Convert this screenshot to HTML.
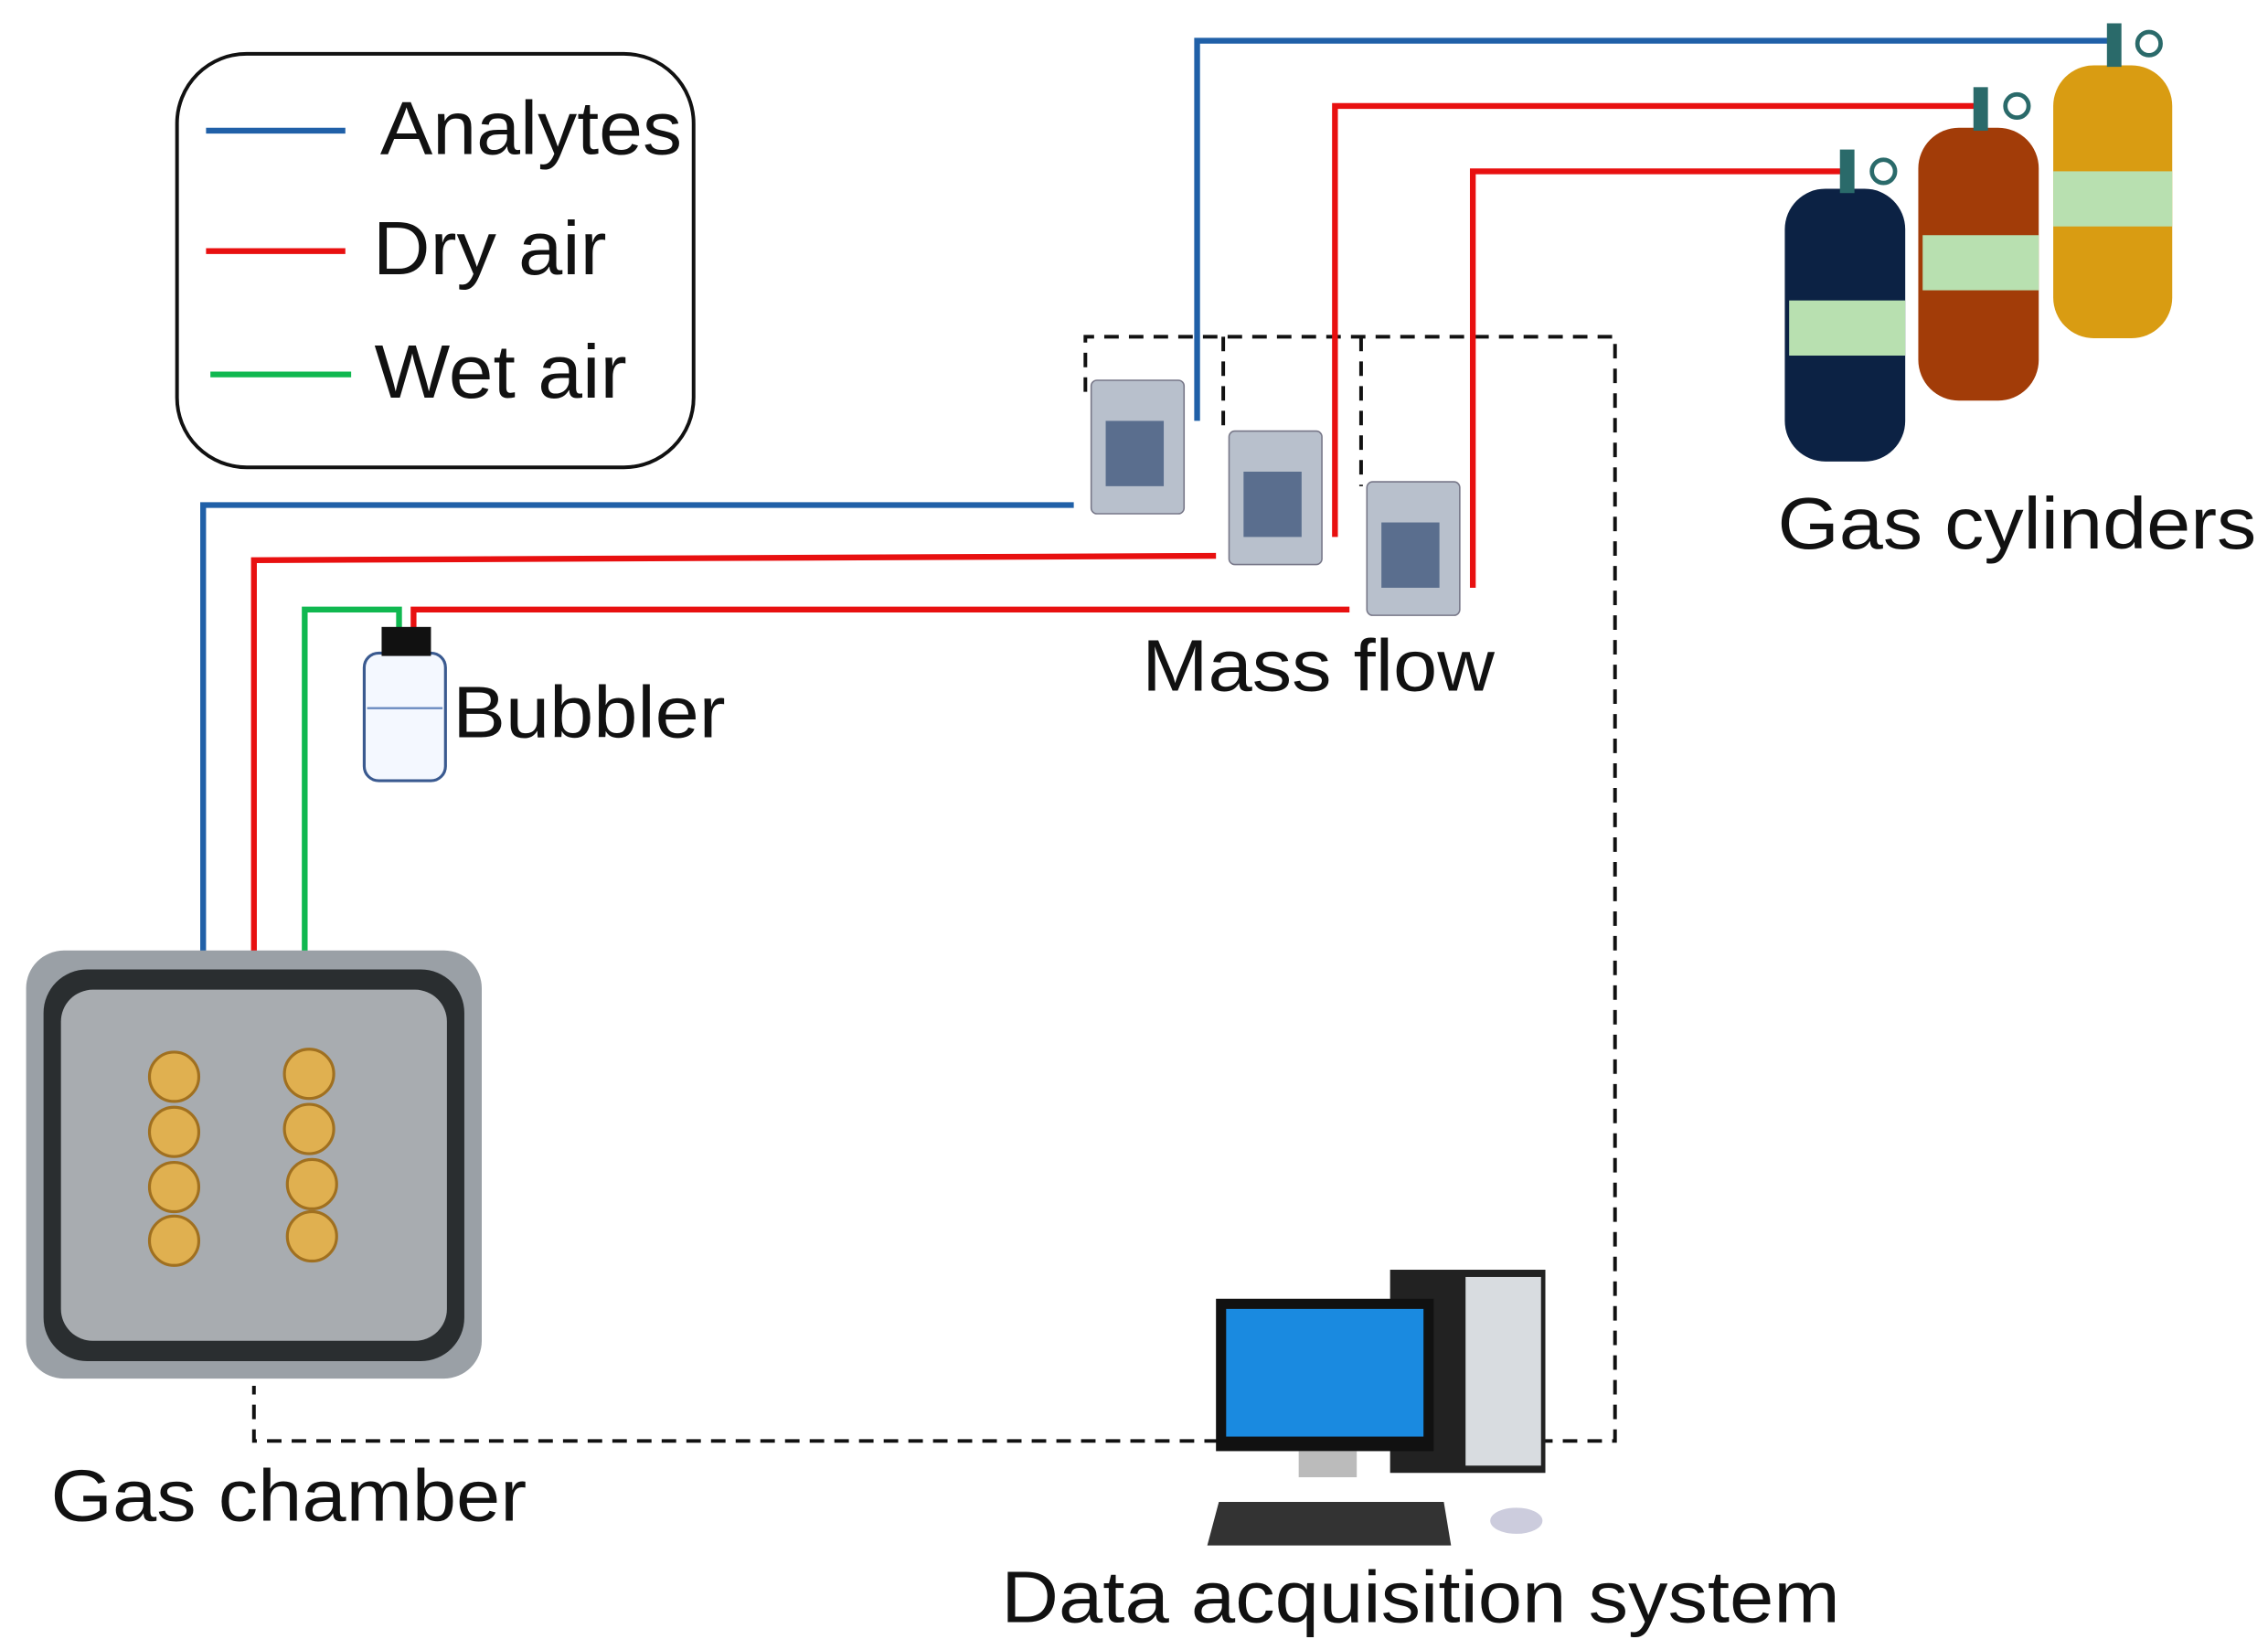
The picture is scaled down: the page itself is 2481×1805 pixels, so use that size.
<!DOCTYPE html>
<html><head><meta charset="utf-8"><style>
html,body{margin:0;padding:0;background:#fff;}
svg{display:block;}
text{font-family:"Liberation Sans",Arial,sans-serif;fill:#111;}
</style></head><body>
<svg width="2481" height="1805" viewBox="0 0 1563 1137" xmlns="http://www.w3.org/2000/svg">
<rect width="1563" height="1137" fill="#fff"/>
<rect x="122" y="37" width="356" height="285" rx="48" fill="none" stroke="#111" stroke-width="2.5"/>
<line x1="142" y1="90" x2="238" y2="90" stroke="#2060a8" stroke-width="4"/>
<line x1="142" y1="173" x2="238" y2="173" stroke="#e81010" stroke-width="4"/>
<line x1="145" y1="258" x2="242" y2="258" stroke="#10b850" stroke-width="4"/>
<text x="262" y="106" font-size="52" textLength="208" lengthAdjust="spacingAndGlyphs">Analytes</text>
<text x="257" y="189" font-size="52" textLength="161" lengthAdjust="spacingAndGlyphs">Dry air</text>
<text x="258" y="274" font-size="52" textLength="174" lengthAdjust="spacingAndGlyphs">Wet air</text>
<g fill="none" stroke="#111" stroke-width="2.5" stroke-dasharray="10,7">
<polyline points="748,270 748,232 1113,232 1113,993 1065,993"/>
<polyline points="840,993 175,993 175,955"/>
<line x1="843" y1="232" x2="843" y2="300"/>
<line x1="938" y1="232" x2="938" y2="335"/>
</g>
<g fill="none" stroke-width="4">
<polyline stroke="#2060a8" points="1460,28 825,28 825,290"/>
<polyline stroke="#2060a8" points="740,348 140,348 140,657"/>
<polyline stroke="#e81010" points="1365,73 920,73 920,370"/>
<polyline stroke="#e81010" points="838,383 175,386 175,657"/>
<polyline stroke="#e81010" points="1270,118 1015,118 1015,405"/>
<polyline stroke="#e81010" points="930,420 285,420 285,510"/>
<polyline stroke="#10b850" points="275,480 275,420 210,420 210,657"/>
</g>
<g>
<rect x="752" y="262" width="64" height="92" fill="#b8c0cc" stroke="#778" rx="4"/>
<rect x="762" y="290" width="40" height="45" fill="#5a6e8e"/>
<rect x="847" y="297" width="64" height="92" fill="#b8c0cc" stroke="#778" rx="4"/>
<rect x="857" y="325" width="40" height="45" fill="#5a6e8e"/>
<rect x="942" y="332" width="64" height="92" fill="#b8c0cc" stroke="#778" rx="4"/>
<rect x="952" y="360" width="40" height="45" fill="#5a6e8e"/>
</g>
<text x="787" y="476" font-size="50" textLength="243" lengthAdjust="spacingAndGlyphs">Mass flow</text>
<rect x="251" y="450" width="56" height="88" rx="10" fill="#f4f8ff" stroke="#3a5a90" stroke-width="2"/>
<line x1="253" y1="488" x2="305" y2="488" stroke="#6a8ac0" stroke-width="1.5"/>
<rect x="263" y="432" width="34" height="20" fill="#111"/>
<text x="312" y="508" font-size="50" textLength="188" lengthAdjust="spacingAndGlyphs">Bubbler</text>
<g>
<rect x="1415" y="45" width="82" height="188" rx="28" fill="#d99c12"/>
<rect x="1415" y="118" width="82" height="38" fill="#b8e0b0"/>
<rect x="1322" y="88" width="83" height="188" rx="28" fill="#a23c08"/>
<rect x="1325" y="162" width="80" height="38" fill="#b8e0b0"/>
<rect x="1230" y="130" width="83" height="188" rx="28" fill="#0c2244"/>
<rect x="1233" y="207" width="80" height="38" fill="#b8e0b0"/>
<g fill="#2a6a6a"><rect x="1452" y="16" width="10" height="30"/><rect x="1360" y="60" width="10" height="30"/><rect x="1268" y="103" width="10" height="30"/></g>
<g fill="#fff" stroke="#2a6a6a" stroke-width="3"><circle cx="1481" cy="30" r="8"/><circle cx="1390" cy="73" r="8"/><circle cx="1298" cy="118" r="8"/></g>
</g>
<text x="1225" y="378" font-size="50" textLength="330" lengthAdjust="spacingAndGlyphs">Gas cylinders</text>
<rect x="18" y="655" width="314" height="295" rx="26" fill="#9aa0a6"/>
<rect x="30" y="668" width="290" height="270" rx="30" fill="#2a2e30"/>
<rect x="42" y="682" width="266" height="242" rx="22" fill="#a8acb0"/>
<g fill="#e0b050" stroke="#a07020" stroke-width="2">
<circle cx="120" cy="742" r="17"/><circle cx="120" cy="780" r="17"/><circle cx="120" cy="818" r="17"/><circle cx="120" cy="855" r="17"/>
<circle cx="213" cy="740" r="17"/><circle cx="213" cy="778" r="17"/><circle cx="215" cy="816" r="17"/><circle cx="215" cy="852" r="17"/>
</g>
<text x="35" y="1048" font-size="50" textLength="328" lengthAdjust="spacingAndGlyphs">Gas chamber</text>
<rect x="958" y="875" width="107" height="140" fill="#222"/>
<rect x="1010" y="880" width="52" height="130" fill="#d8dce0"/>
<rect x="838" y="895" width="150" height="105" fill="#111"/>
<rect x="845" y="902" width="136" height="88" fill="#1a8ae0"/>
<rect x="895" y="1000" width="40" height="18" fill="#bbb"/>
<polygon points="840,1035 995,1035 1000,1065 832,1065" fill="#333"/>
<ellipse cx="1045" cy="1048" rx="18" ry="9" fill="#ccd"/>
<text x="690" y="1118" font-size="50" textLength="578" lengthAdjust="spacingAndGlyphs">Data acquisition system</text>
</svg>
</body></html>
